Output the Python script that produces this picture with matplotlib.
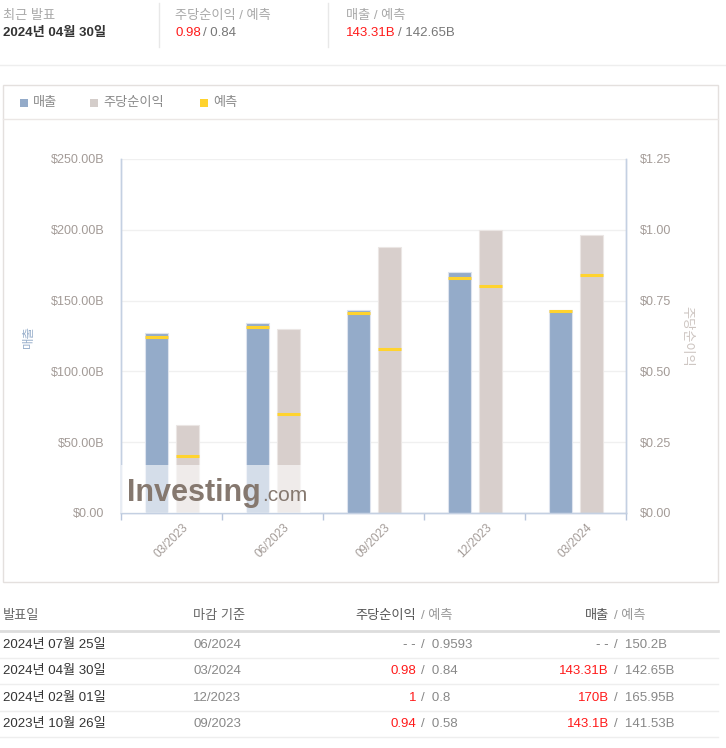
import numpy as np
import matplotlib.pyplot as plt
from matplotlib.patches import Rectangle
from matplotlib.lines import Line2D

plt.rcParams['font.family'] = ['Liberation Sans', 'Noto Sans CJK KR', 'DejaVu Sans']

# chart data
periods = ["03/2023", "06/2023", "09/2023", "12/2023", "03/2024"]
revenue = [127.4, 134.4, 143.1, 170.0, 143.31]
revenue_fc = [124.5, 131.5, 141.53, 165.95, 142.65]
eps = [0.31, 0.65, 0.94, 1.00, 0.98]
eps_fc = [0.20, 0.35, 0.58, 0.80, 0.84]
rev_ticks = [0, 50, 100, 150, 200, 250]
eps_ticks = [0, 0.25, 0.5, 0.75, 1.0, 1.25]

# table data
tbl_dates = ["2024년 07월 25일", "2024년 04월 30일", "2024년 02월 01일", "2023년 10월 26일"]
tbl_period = ["06/2024", "03/2024", "12/2023", "09/2023"]
tbl_eps = ["- -", "0.98", "1", "0.94"]
tbl_eps_fc = ["0.9593", "0.84", "0.8", "0.58"]
tbl_rev = ["- -", "143.31B", "170B", "143.1B"]
tbl_rev_fc = ["150.2B", "142.65B", "165.95B", "141.53B"]

W, H = 726, 748
BLUE = "#94abc9"
GREY = "#d8cfcc"
YELLOW = "#ffd32e"
RED = "#ff1a1a"
TXT = "#a39b97"
DARK = "#333333"


def fx(x):
    return x / W


def fy(y):
    return 1 - y / H


fig = plt.figure(figsize=(W / 100, H / 100), dpi=100)
fig.patch.set_facecolor("white")


def hline(y, x0, x1, color, lw=1.0):
    fig.add_artist(Line2D([fx(x0), fx(x1)], [fy(y), fy(y)], color=color, lw=lw,
                          transform=fig.transFigure))


def vline(x, y0, y1, color, lw=1.0):
    fig.add_artist(Line2D([fx(x), fx(x)], [fy(y0), fy(y1)], color=color, lw=lw,
                          transform=fig.transFigure))


# ---- header ----
fig.text(fx(3), fy(16), "최근 발표", fontsize=9.5, color="#a8a8a8", va="center")
fig.text(fx(3), fy(33), "2024년 04월 30일", fontsize=9.5, color=DARK, va="center",
         fontweight="bold")
vline(159, 3, 47, "#e8e8e8")
vline(328, 3, 47, "#e8e8e8")
fig.text(fx(175), fy(16), "주당순이익 / 예측", fontsize=9.5, color="#a8a8a8", va="center")
fig.text(fx(175), fy(33), "0.98", fontsize=9.5, color=RED, va="center")
fig.text(fx(203), fy(33), "/ 0.84", fontsize=9.5, color="#777777", va="center")
fig.text(fx(346), fy(16), "매출 / 예측", fontsize=9.5, color="#a8a8a8", va="center")
fig.text(fx(346), fy(33), "143.31B", fontsize=9.5, color=RED, va="center")
fig.text(fx(398), fy(33), "/ 142.65B", fontsize=9.5, color="#777777", va="center")
hline(65, 0, 726, "#eeeeee")

# ---- chart panel ----
fig.add_artist(Rectangle((fx(3), fy(582)), fx(715), (582 - 85) / H, transform=fig.transFigure,
                         facecolor="none", edgecolor="#e4e0de", lw=1))
hline(119, 3, 718, "#ebe7e5")

# legend
legend_items = [(20, BLUE, "매출"), (90, "#d4cdca", "주당순이익"), (200, YELLOW, "예측")]
for lx, c, lab in legend_items:
    fig.add_artist(Rectangle((fx(lx), fy(107)), fx(8), 8 / H, transform=fig.transFigure,
                             facecolor=c, edgecolor="none"))
    fig.text(fx(lx + 13), fy(103), lab, fontsize=9.5, color="#8a8a8a", va="center")

ax = fig.add_axes([fx(121), fy(513), fx(626 - 121), (513 - 159) / H])
ax2 = ax.twinx()
ax.set_zorder(ax2.get_zorder() + 1)
ax.patch.set_visible(False)

x = np.arange(len(periods))
bw = 0.23
off_r = -0.145
off_e = 0.155

ax2.bar(x + off_e, eps, bw, color=GREY, edgecolor="#ebe6e4", lw=0.8, zorder=2)
ax2.hlines(eps_fc, x + off_e - bw / 2, x + off_e + bw / 2, color=YELLOW, lw=2.2, zorder=3)
ax.bar(x + off_r, revenue, bw, color=BLUE, edgecolor="#dde3ee", lw=0.8, zorder=2)
ax.hlines(revenue_fc, x + off_r - bw / 2, x + off_r + bw / 2, color=YELLOW, lw=2.2, zorder=3)

ax.set_xlim(-0.5, len(periods) - 0.5)
ax.set_ylim(0, 250)
ax2.set_ylim(0, 1.25)
ax.set_yticks(rev_ticks)
ax.set_yticklabels(["$%.2fB" % v if v else "$0.00" for v in rev_ticks])
ax2.set_yticks(eps_ticks)
ax2.set_yticklabels(["$%.2f" % v for v in eps_ticks])
ax2.grid(axis="y", color="#f0f0f0", lw=1, zorder=0)
ax2.set_axisbelow(True)

ax.set_xticks(x)
ax.set_xticklabels(periods, rotation=45, ha="center", fontsize=8.5, color=TXT)
ax.set_xticks(np.arange(-0.5, len(periods)), minor=True)
ax.tick_params(axis="x", which="major", length=0, pad=6)
ax.tick_params(axis="x", which="minor", length=5, color="#b8c6dc", width=1)
ax.tick_params(axis="y", length=0, pad=12, labelsize=9, labelcolor=TXT)
ax2.tick_params(axis="y", length=0, pad=10, labelsize=9, labelcolor=TXT)

for a in (ax, ax2):
    a.spines["top"].set_visible(False)
    for s in ("left", "right", "bottom"):
        a.spines[s].set_color("#c4d0e2")
        a.spines[s].set_linewidth(1)

ax.set_ylabel("매출", color="#9ab0cc", fontsize=9)
ax.yaxis.set_label_coords((35 - 121) / (626 - 121), 0.5)
ax2.set_ylabel("주당순이익", color="#cdc5c1", fontsize=9.5, rotation=270, va="center")
ax2.yaxis.set_label_coords((686 - 121) / (626 - 121), 0.5)

# watermark
ax.add_patch(Rectangle((0, 0), (310 - 121) / (626 - 121), 48 / 354, transform=ax.transAxes,
                       facecolor="white", alpha=0.6, edgecolor="none", zorder=4))
fig.text(fx(127), fy(501), "Investing", fontsize=22, fontweight="bold", color="#85786f",
         va="baseline", zorder=10)
fig.text(fx(262), fy(501), ".com", fontsize=15, color="#85786f", va="baseline", zorder=10)

# ---- table ----
fs = 9.5
fig.text(fx(3), fy(616), "발표일", fontsize=fs, color="#666666", va="center")
fig.text(fx(193), fy(616), "마감 기준", fontsize=fs, color="#666666", va="center")
fig.text(fx(416), fy(616), "주당순이익", fontsize=fs, color="#555555", va="center", ha="right")
fig.text(fx(421), fy(616), "/ 예측", fontsize=fs, color="#999999", va="center")
fig.text(fx(609), fy(616), "매출", fontsize=fs, color="#555555", va="center", ha="right")
fig.text(fx(614), fy(616), "/ 예측", fontsize=fs, color="#999999", va="center")
hline(631, 0, 718, "#dddddd", lw=2)

row_y = [645, 671, 698, 724]
for i, ry in enumerate(row_y):
    fig.text(fx(3), fy(ry), tbl_dates[i], fontsize=fs, color=DARK, va="center")
    fig.text(fx(193), fy(ry), tbl_period[i], fontsize=fs, color="#888888", va="center")
    c = "#777777" if tbl_eps[i] == "- -" else RED
    fig.text(fx(416), fy(ry), tbl_eps[i], fontsize=fs, color=c, va="center", ha="right")
    fig.text(fx(421), fy(ry), "/  " + tbl_eps_fc[i], fontsize=fs, color="#888888", va="center")
    c = "#777777" if tbl_rev[i] == "- -" else RED
    fig.text(fx(609), fy(ry), tbl_rev[i], fontsize=fs, color=c, va="center", ha="right")
    fig.text(fx(614), fy(ry), "/  " + tbl_rev_fc[i], fontsize=fs, color="#888888", va="center")
    hline(ry + 13, 0, 718, "#eeeeee")

fig.savefig("out.png", dpi=100)
